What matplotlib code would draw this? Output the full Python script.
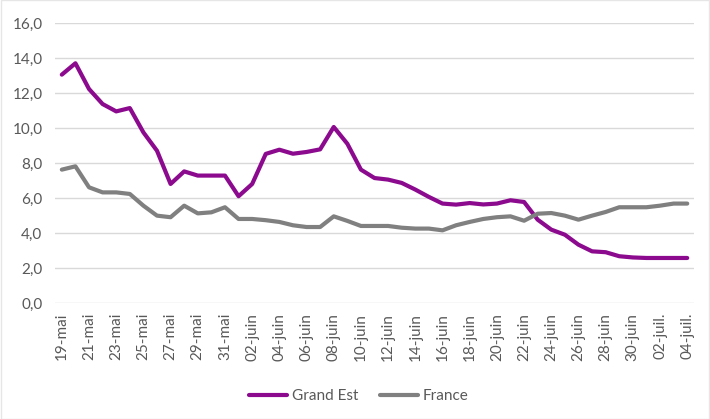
import matplotlib
matplotlib.use("Agg")
import matplotlib.pyplot as plt
import datetime as dt

start = dt.date(2020, 5, 19)
n_days = 47
mois = {5: "mai", 6: "juin", 7: "juil."}
dates = [start + dt.timedelta(days=i) for i in range(n_days)]
labels = [f"{d.day:02d}-{mois[d.month]}" for d in dates]

grand_est = [13.05, 13.7, 12.23, 11.37, 10.95, 11.14, 9.75, 8.7, 6.8, 7.52,
             7.28, 7.28, 7.28, 6.1, 6.8, 8.52, 8.76, 8.53, 8.63, 8.78,
             10.06, 9.1, 7.62, 7.14, 7.05, 6.86, 6.48, 6.06, 5.68, 5.62,
             5.71, 5.63, 5.68, 5.87, 5.77, 4.76, 4.19, 3.9, 3.33, 2.95,
             2.9, 2.67, 2.6, 2.57, 2.57, 2.57, 2.57]
france = [7.62, 7.81, 6.61, 6.32, 6.32, 6.23, 5.56, 4.99, 4.9, 5.56,
          5.12, 5.18, 5.47, 4.8, 4.8, 4.73, 4.63, 4.44, 4.34, 4.34,
          4.95, 4.69, 4.4, 4.4, 4.4, 4.3, 4.25, 4.25, 4.15, 4.44,
          4.63, 4.8, 4.9, 4.95, 4.7, 5.1, 5.14, 4.99, 4.76, 4.99,
          5.2, 5.47, 5.47, 5.47, 5.56, 5.68, 5.68]
y_ticks = [0, 2, 4, 6, 8, 10, 12, 14, 16]

plt.rcParams['font.family'] = ['Lato', 'DejaVu Sans']

fig = plt.figure(figsize=(7.1, 4.19), dpi=100)
ax = fig.add_axes([0.0775, 0.277, 0.9, 0.668])

x = list(range(n_days))
ax.plot(x, grand_est, color="#8B0A8E", lw=3.0, label="Grand Est", solid_capstyle="round", zorder=3)
ax.plot(x, france, color="#808080", lw=3.0, label="France", solid_capstyle="round", zorder=3)

ax.set_xlim(-0.5, n_days - 0.5)
ax.set_ylim(0, 16)
ax.set_yticks(y_ticks)
ax.set_yticklabels([f"{v:.1f}".replace(".", ",") for v in y_ticks])
ax.set_xticks(x[::2])
ax.set_xticklabels(labels[::2], rotation=90)
ax.tick_params(axis="both", length=0, labelsize=11, colors="#595959")
ax.tick_params(axis="x", pad=7)
ax.tick_params(axis="y", pad=9)
ax.grid(axis="y", color="#D9D9D9", lw=1)
ax.set_axisbelow(True)
for s in ax.spines.values():
    s.set_visible(False)

leg = fig.legend(loc="center", bbox_to_anchor=(0.505, 0.055), ncol=2, frameon=False,
                 fontsize=11, handlelength=2.5, columnspacing=1.4, handletextpad=0.3)
for t in leg.get_texts():
    t.set_color("#595959")

fig.patches.append(plt.Rectangle((0.001, 0.001), 0.998, 0.998, transform=fig.transFigure,
                                 fill=False, edgecolor="#E6E6E6", lw=1))

fig.savefig("out.png", dpi=100)
